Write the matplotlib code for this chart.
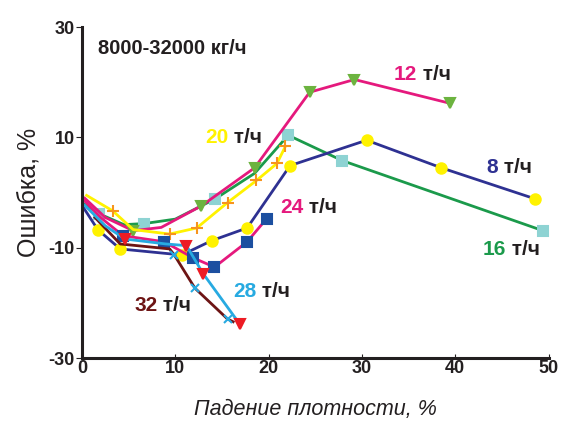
import numpy as np
import matplotlib
matplotlib.use('Agg')
import matplotlib.pyplot as plt

plt.rcParams['font.family'] = ['Liberation Sans', 'DejaVu Sans']
plt.rcParams['axes.unicode_minus'] = False

# данные по кривым (x - падение плотности, %, y - ошибка, %)
x8 = [0.2, 1.7, 4.1, 10.7, 13.9, 17.7, 22.3, 30.5, 38.5, 48.5]
y8 = [-2.8, -6.7, -10.2, -11.3, -8.7, -6.4, 4.9, 9.5, 4.5, -1.1]
mk8 = [1, 2, 3, 4, 5, 6, 7, 8, 9]

x12 = [0.3, 2.5, 5.5, 8.5, 12.8, 18.5, 24.4, 29.2, 39.4]
y12 = [-1.0, -4.5, -6.9, -6.3, -2.4, 4.5, 18.2, 20.5, 16.2]
mk12 = [2, 4, 5, 6, 7, 8]

x16 = [0.2, 1.8, 4.5, 6.7, 10.0, 14.3, 18.5, 22.1, 27.9, 49.4]
y16 = [-2.0, -3.8, -5.8, -5.6, -4.8, -1.1, 3.5, 10.4, 5.8, -6.9]
mk16 = [1, 3, 5, 7, 8, 9]

x20 = [0.5, 3.3, 5.5, 9.4, 12.3, 15.6, 18.7, 20.9, 21.8]
y20 = [-0.5, -3.3, -6.7, -7.5, -6.4, -1.8, 2.2, 5.3, 8.4]
mk20 = [1, 3, 4, 5, 6, 7, 8]

x24 = [0.3, 2.0, 4.4, 8.8, 11.9, 14.2, 17.7, 19.8]
y24 = [-1.5, -4.5, -7.8, -8.9, -11.8, -13.5, -8.9, -4.7]
mk24 = [2, 3, 4, 5, 6, 7]

x28 = [0.3, 2.5, 4.6, 9.0, 11.2, 13.0, 16.9]
y28 = [-2.3, -6.0, -8.4, -9.3, -9.6, -14.7, -23.8]
mk28 = [2, 4, 5, 6]

x32 = [1.4, 4.1, 9.4, 9.9, 12.1, 15.6, 16.2]
y32 = [-4.5, -9.3, -10.2, -11.3, -17.3, -22.9, -23.4]
mk32 = [3, 4, 5]

dark = '#231f20'

fig = plt.figure(figsize=(5.61, 4.30), dpi=100)
ax = fig.add_axes([0.146, 0.167, 0.832, 0.770])

series = [
    (x16, y16, mk16, '#1b9a4b', 's', '#8ed3d3', 7.5),
    (x12, y12, mk12, '#e5197d', 'v', '#6cb33f', 7.5),
    (x20, y20, mk20, '#fff200', '+', '#f7941d', 8.5),
    (x8, y8, mk8, '#2e3192', 'o', '#fff200', 7.5),
    (x24, y24, mk24, '#e5197d', 's', '#1c4fa0', 7),
    (x32, y32, mk32, '#6d1414', 'x', '#27aae1', 6),
    (x28, y28, mk28, '#27aae1', 'v', '#ed1c24', 7.5),
]
for x, y, mk, lc, m, mc, ms in series:
    ax.plot(x, y, color=lc, lw=2.0, marker=m, markevery=mk, ms=ms,
            mfc=mc, mec=mc, mew=1.5)

# подписи кривых
def label(x, y, num, color):
    t = ax.text(x, y, num, color=color, fontsize=15, fontweight='bold', va='center')
    ax.annotate(' т/ч', xy=(1, 0.5), xycoords=t, va='center', ha='left',
                fontsize=15, fontweight='bold', color=dark)

label(33.4, 21.4, '12', '#e5197d')
label(13.2, 10.0, '20', '#fff200')
label(21.2, -2.7, '24', '#e5197d')
label(43.3, 4.6, '8', '#2e3192')
label(42.9, -10.3, '16', '#1b9a4b')
label(16.2, -18.0, '28', '#27aae1')
label(5.6, -20.4, '32', '#6d1414')

ax.text(1.7, 26.2, '8000-32000 кг/ч', fontsize=14.5, fontweight='bold',
        color=dark, va='center')

ax.set_xlim(0, 50)
ax.set_ylim(-30, 30)
ax.set_xticks([0, 10, 20, 30, 40, 50])
ax.set_yticks([30, 10, -10, -30])
for lab in ax.get_xticklabels() + ax.get_yticklabels():
    lab.set_fontweight('bold')
ax.tick_params(axis='x', direction='in', length=3, labelsize=13, colors=dark, pad=1)
ax.tick_params(axis='y', direction='out', length=4, labelsize=13, colors=dark, pad=1)
ax.spines['top'].set_visible(False)
ax.spines['right'].set_visible(False)
for s in ['left', 'bottom']:
    ax.spines[s].set_linewidth(2.2)
    ax.spines[s].set_color(dark)

ax.set_ylabel('Ошибка, %', fontsize=18, color=dark, labelpad=6)
ax.set_xlabel('Падение плотности, %', fontsize=15.5, style='italic', color=dark, labelpad=16)

fig.savefig('out.png', dpi=100)
